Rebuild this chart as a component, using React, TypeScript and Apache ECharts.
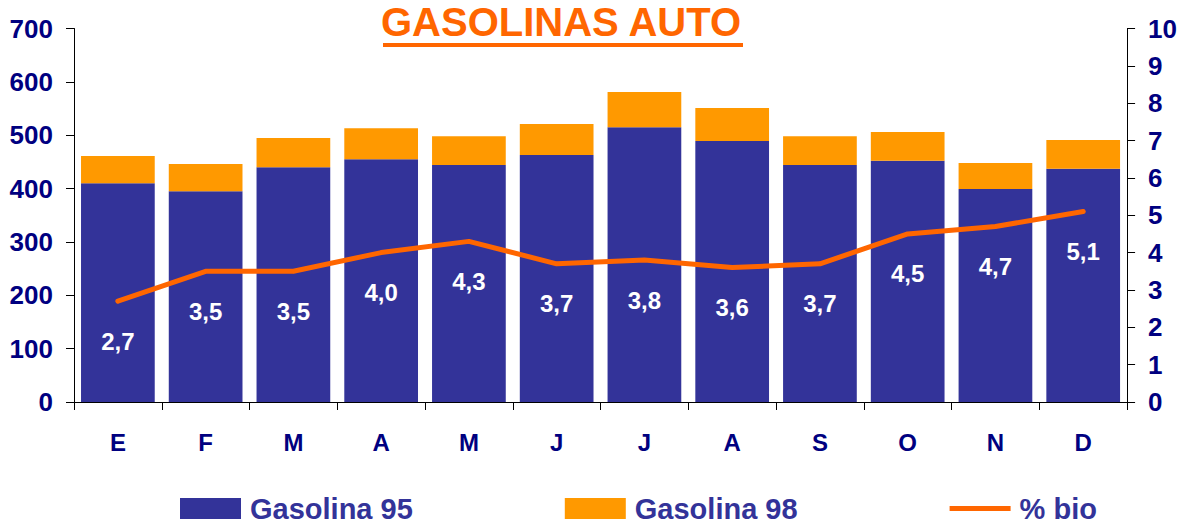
import React, { useEffect, useRef } from "react";
import * as echarts from "echarts";

const months = ["E", "F", "M", "A", "M", "J", "J", "A", "S", "O", "N", "D"];
const gasolina95 = [410, 395, 440, 455, 444, 463, 515, 489, 444, 452, 399, 437];
const gasolina98 = [51, 51, 55, 58, 54, 58, 66, 62, 54, 54, 49, 54];
const bio = [2.7, 3.5, 3.5, 4.0, 4.3, 3.7, 3.8, 3.6, 3.7, 4.5, 4.7, 5.1];

const FONT = "'Liberation Sans', Arial, sans-serif";
const NAVY = "#000080";

export default function App() {
  const ref = useRef<HTMLDivElement>(null);
  useEffect(() => {
    document.body.style.margin = "0";
    const chart = echarts.init(ref.current!, null, { renderer: "svg" });
    const gridBox = { left: 74, right: 46, top: 28.5, bottom: 122, containLabel: false };
    chart.setOption({
      animation: false,
      textStyle: { fontFamily: FONT },
      title: {
        text: "GASOLINAS AUTO",
        left: 381,
        top: 2,
        padding: 0,
        textStyle: { color: "#FF6600", fontSize: 40, fontWeight: "bold", fontFamily: FONT, lineHeight: 40 },
      },
      graphic: [
        { type: "rect", shape: { x: 383, y: 43, width: 360, height: 4 }, style: { fill: "#FF6600" } },
      ],
      grid: [gridBox, gridBox],
      legend: {
        left: 180,
        top: 494,
        padding: 0,
        itemWidth: 61,
        itemHeight: 21,
        itemGap: 152,
        textStyle: {
          color: "#333399",
          fontSize: 29,
          fontWeight: "bold",
          fontFamily: FONT,
          lineHeight: 29,
          padding: [0, 0, 0, 4],
        },
        data: [
          { name: "Gasolina 95", icon: "rect" },
          { name: "Gasolina 98", icon: "rect" },
          { name: "% bio", icon: "path://M0,0 H63 V5 H0 Z" },
        ],
      },
      xAxis: [
        {
          type: "category",
          gridIndex: 0,
          data: months,
          axisLine: { lineStyle: { color: "#000", width: 1 } },
          axisTick: { show: true, length: 8, lineStyle: { color: "#000" } },
          axisLabel: { color: NAVY, fontSize: 24, fontWeight: "bold", margin: 28, fontFamily: FONT },
        },
        {
          type: "category",
          gridIndex: 1,
          data: months,
          show: false,
        },
      ],
      yAxis: [
        {
          type: "value",
          gridIndex: 0,
          min: 0,
          max: 700,
          interval: 100,
          position: "left",
          axisLine: { show: true, lineStyle: { color: "#000", width: 1 } },
          axisTick: { show: true, length: 8, lineStyle: { color: "#000" } },
          axisLabel: { color: NAVY, fontSize: 26, fontWeight: "bold", margin: 21, fontFamily: FONT },
          splitLine: { show: false },
        },
        {
          type: "value",
          gridIndex: 0,
          min: 0,
          max: 10,
          interval: 1,
          position: "right",
          axisLine: { show: true, lineStyle: { color: "#000", width: 1 } },
          axisTick: { show: true, length: 8, lineStyle: { color: "#000" } },
          axisLabel: { color: NAVY, fontSize: 26, fontWeight: "bold", margin: 21, fontFamily: FONT },
          splitLine: { show: false },
        },
        {
          type: "value",
          gridIndex: 1,
          min: 0,
          max: 10,
          interval: 1,
          position: "right",
          axisLine: { show: false },
          axisTick: { show: true, inside: true, length: 7, lineStyle: { color: "#000" } },
          axisLabel: { show: false },
          splitLine: { show: false },
        },
      ],
      series: [
        {
          name: "Gasolina 95",
          type: "bar",
          stack: "total",
          data: gasolina95,
          barCategoryGap: "16%",
          itemStyle: { color: "#333399" },
        },
        {
          name: "Gasolina 98",
          type: "bar",
          stack: "total",
          data: gasolina98,
          barCategoryGap: "16%",
          itemStyle: { color: "#FF9900" },
        },
        {
          name: "% bio",
          type: "line",
          yAxisIndex: 1,
          data: bio,
          symbol: "circle",
          symbolSize: 4,
          showSymbol: true,
          lineStyle: { color: "#FF6600", width: 5, cap: "round", join: "round" },
          itemStyle: { color: "#FF6600" },
          label: {
            show: true,
            position: "bottom",
            distance: 26,
            color: "#fff",
            fontSize: 24,
            fontWeight: "bold",
            fontFamily: FONT,
            formatter: (p: any) => Number(p.value).toFixed(1).replace(".", ","),
          },
        },
      ],
    });
    return () => chart.dispose();
  }, []);
  return <div ref={ref} style={{ width: 1180, height: 524 }} />;
}
